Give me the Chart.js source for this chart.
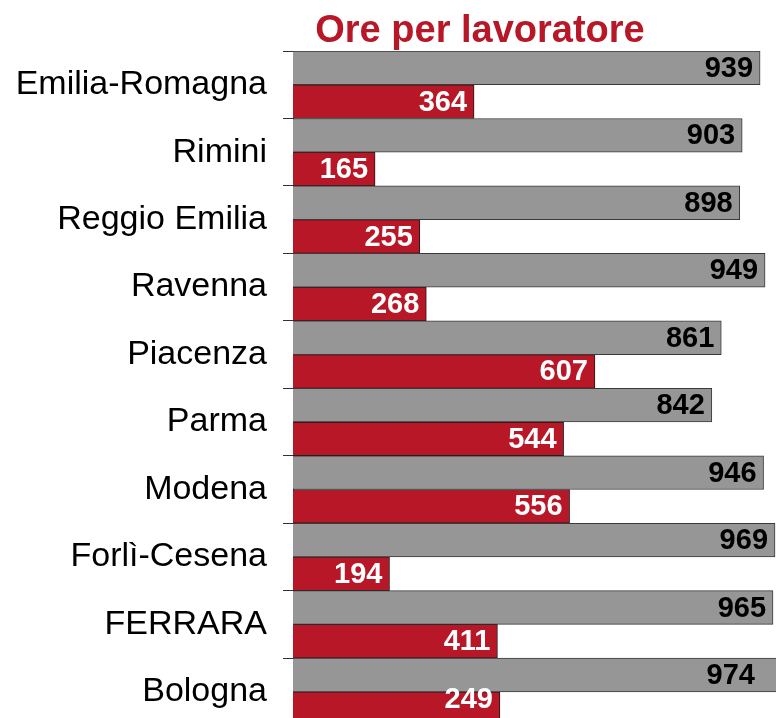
<!DOCTYPE html>
<html>
<head>
<meta charset="utf-8">
<script src="https://cdn.jsdelivr.net/npm/chart.js@4/dist/chart.umd.min.js"></script>
<style>
  html, body { margin: 0; padding: 0; background: #fff; overflow: hidden; }
  #wrap { position: absolute; left: 0; top: 0; }
</style>
</head>
<body>
<div id="wrap"><canvas id="oreChart" width="776" height="762"></canvas></div>
<script>
// Dati
const province = ["Emilia-Romagna", "Rimini", "Reggio Emilia", "Ravenna", "Piacenza",
                  "Parma", "Modena", "Forlì-Cesena", "FERRARA", "Bologna"];
const valoriGrigi = [939, 903, 898, 949, 861, 842, 946, 969, 965, 974];
// lunghezza delle barre rosse come disegnate (Bologna: barra lunga ~416 ma etichetta 249)
const valoriRossi = [364, 165, 255, 268, 607, 544, 556, 194, 411, 416];
const etichetteRosse = ["364", "165", "255", "268", "607", "544", "556", "194", "411", "249"];

const titolo = "Ore per lavoratore";
const FONT = "'Liberation Sans', Arial, sans-serif";
const ROSSO = "#B71727";
const GRIGIO = "#969696";

// Etichette dei valori dentro le barre
const etichettePlugin = {
    id: "etichette",
    afterDatasetsDraw(chart) {
        const ctx = chart.ctx;
        const area = chart.chartArea;
        const maxY = window.innerHeight - 19;
        ctx.save();
        ctx.font = "bold 29px " + FONT;
        ctx.textAlign = "right";
        ctx.textBaseline = "middle";
        chart.data.datasets.forEach((ds, i) => {
            const meta = chart.getDatasetMeta(i);
            meta.data.forEach((bar, j) => {
                let x = bar.x > area.right ? area.right - 21 : bar.x - 7;
                let y = Math.min(bar.y, maxY);
                const testo = i === 0 ? String(ds.data[j]) : etichetteRosse[j];
                ctx.fillStyle = i === 0 ? "#000" : "#fff";
                ctx.fillText(testo, x, y + 1);
            });
        });
        ctx.restore();
    },
    afterDraw(chart) {
        const ctx = chart.ctx;
        ctx.save();
        ctx.font = "bold 38px " + FONT;
        ctx.fillStyle = ROSSO;
        ctx.textAlign = "center";
        ctx.textBaseline = "alphabetic";
        ctx.fillText(titolo, 480, 42);
        ctx.restore();
    }
};

new Chart(document.getElementById("oreChart"), {
    type: "bar",
    data: {
        labels: province,
        datasets: [
            {
                data: valoriGrigi,
                backgroundColor: GRIGIO,
                borderColor: "#3a3a3a",
                borderWidth: 1,
                borderSkipped: "left",
                barPercentage: 1,
                categoryPercentage: 1
            },
            {
                data: valoriRossi,
                backgroundColor: ROSSO,
                borderColor: "#1a1a1a",
                borderWidth: 1,
                borderSkipped: "left",
                barPercentage: 1,
                categoryPercentage: 1
            }
        ]
    },
    options: {
        indexAxis: "y",
        responsive: false,
        animation: false,
        layout: { padding: { top: 51, right: 0, bottom: 0, left: 0 } },
        plugins: {
            legend: { display: false },
            tooltip: { enabled: false }
        },
        scales: {
            x: {
                display: false,
                min: 0,
                max: 971
            },
            y: {
                afterFit: (scale) => { scale.width = 293; },
                border: { display: true, color: "#000", width: 1 },
                grid: {
                    offset: true,
                    drawOnChartArea: false,
                    drawTicks: true,
                    tickLength: 10,
                    color: "#333"
                },
                ticks: {
                    color: "#000",
                    padding: 16,
                    font: { family: FONT, size: 34 }
                }
            }
        }
    },
    plugins: [etichettePlugin]
});
</script>
</body>
</html>
